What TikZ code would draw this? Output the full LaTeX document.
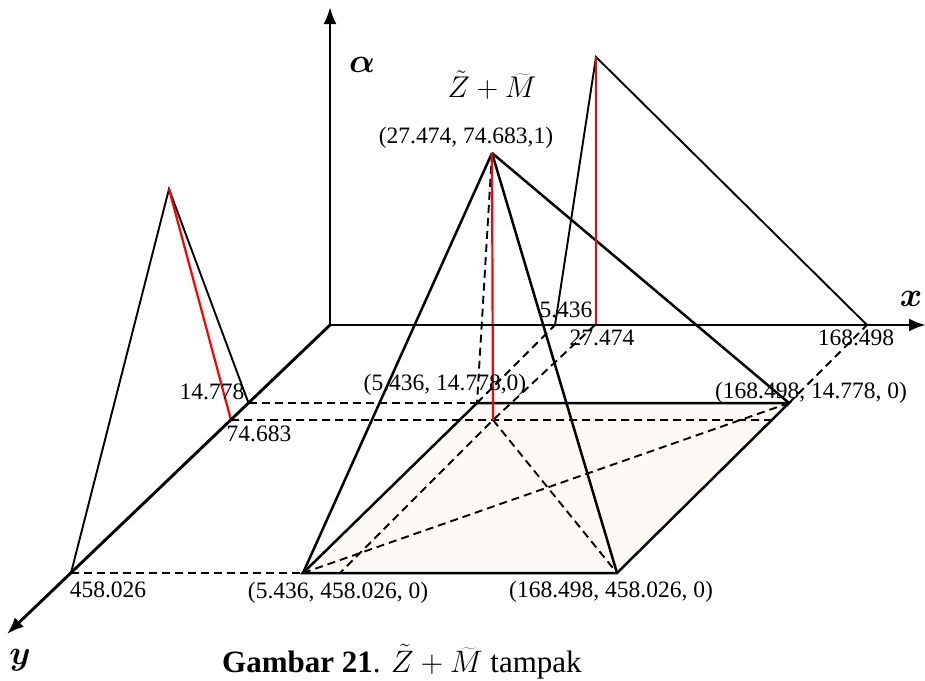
\RequirePackage{fix-cm}
\documentclass[tikz,border=0pt]{standalone}
\usepackage{bm}
\usepackage{fontspec}
\setmainfont{Liberation Serif}
\usetikzlibrary{arrows.meta,calc}
\definecolor{basefill}{RGB}{253,250,245}
\tikzset{
  axis/.style={line width=2.9pt,-{Latex[length=17pt,width=13pt]}},
  edge/.style={line width=2.5pt},
  thin edge/.style={line width=1.9pt},
  hidden/.style={line width=1.9pt,dash pattern=on 8pt off 5pt},
  redline/.style={line width=2.2pt,red},
  lbl/.style={inner sep=0pt,font=\fontsize{23.5}{26}\selectfont},
  axlbl/.style={inner sep=0pt,font=\fontsize{34}{36}\selectfont},
}
\begin{document}
\begin{tikzpicture}[x=1pt,y=-1pt]
\useasboundingbox (0,0) rectangle (925,680);
% coordinates
\coordinate (O) at (330,325);
\coordinate (atop) at (330,7);
\coordinate (xend) at (926,325);
\coordinate (yend) at (7,634);
\coordinate (y14) at (248.5,403);
\coordinate (y74) at (231,420);
\coordinate (y458) at (71,573);
\coordinate (x5) at (555,325);
\coordinate (x27) at (595,325);
\coordinate (x168) at (867,325);
\coordinate (A) at (477,403);
\coordinate (B) at (789,403);
\coordinate (C) at (617,573);
\coordinate (D) at (303,573);
\coordinate (F) at (493,420);
\coordinate (P) at (492,153);
\coordinate (Q) at (596,57);
\coordinate (Qf) at (596,325);
\coordinate (L) at (169,189);
\coordinate (G) at (340,573);
\coordinate (E) at ($(B)!0.1!(C)$);
% base fill
\fill[basefill] (A) -- (B) -- (C) -- (D) -- cycle;
% hidden lines
\draw[hidden] (y14) -- (A);
\draw[hidden] (y74) -- (E);
\draw[hidden] (y458) -- (D);
\draw[hidden] (A) -- (x5);
\draw[hidden] (B) -- (x168);
\draw[hidden] (x27) -- (F) -- (G);
\draw[hidden] (D) -- (B);
\draw[hidden] (F) -- (C);
\draw[hidden] (P) -- (A);
% base edges
\draw[edge] (A) -- (B) -- (C) -- (D) -- cycle;
% pyramid edges
\draw[edge] (P) -- (D);
\draw[edge] (P) -- (C);
\draw[edge] (P) -- (B);
\draw[redline] (P) -- (F);
% side projections
\draw[thin edge] (x5) -- (Q) -- (x168);
\draw[redline] (Q) -- (Qf);
\draw[thin edge] (y14) -- (L) -- (y458);
\draw[redline] (L) -- (y74);
% axes
\draw[axis] (O) -- (atop);
\draw[axis] (O) -- (xend);
\draw[axis] (O) -- (yend);
% labels
\node[axlbl] (lalpha) at (362,65) {$\bm{\alpha}$};
\node[axlbl] (lx) at (911,299) {$\bm{x}$};
\node[axlbl] (ly) at (20,660) {$\bm{y}$};
\node[inner sep=0pt,font=\fontsize{30}{32}\selectfont] (title) at (492,85) {$\tilde{Z}+\widetilde{M}$};
\node[lbl] (lP) at (466,138) {(27.474, 74.683,1)};
\node[lbl] (l14) at (212,392) {14.778};
\node[lbl] (l74) at (259,434) {74.683};
\node[lbl] (l458) at (108,590) {458.026};
\node[lbl] (lD) at (338,593) {(5.436, 458.026, 0)};
\node[lbl] (lC) at (611,592) {(168.498, 458.026, 0)};
\node[lbl] (lA) at (445,385) {(5.436, 14.778,0)};
\node[lbl] (lB) at (811,393) {(168.498, 14.778, 0)};
\node[lbl] (l5) at (566,310) {5.436};
\node[lbl] (l27) at (602,338) {27.474};
\node[lbl] (l168) at (856,338) {168.498};
\node[inner sep=0pt,anchor=west,font=\fontsize{31}{34}\selectfont] (cap) at (222,662) {\textbf{Gambar 21}. $\tilde{Z}+\widetilde{M}$ tampak};
\end{tikzpicture}
\end{document}
